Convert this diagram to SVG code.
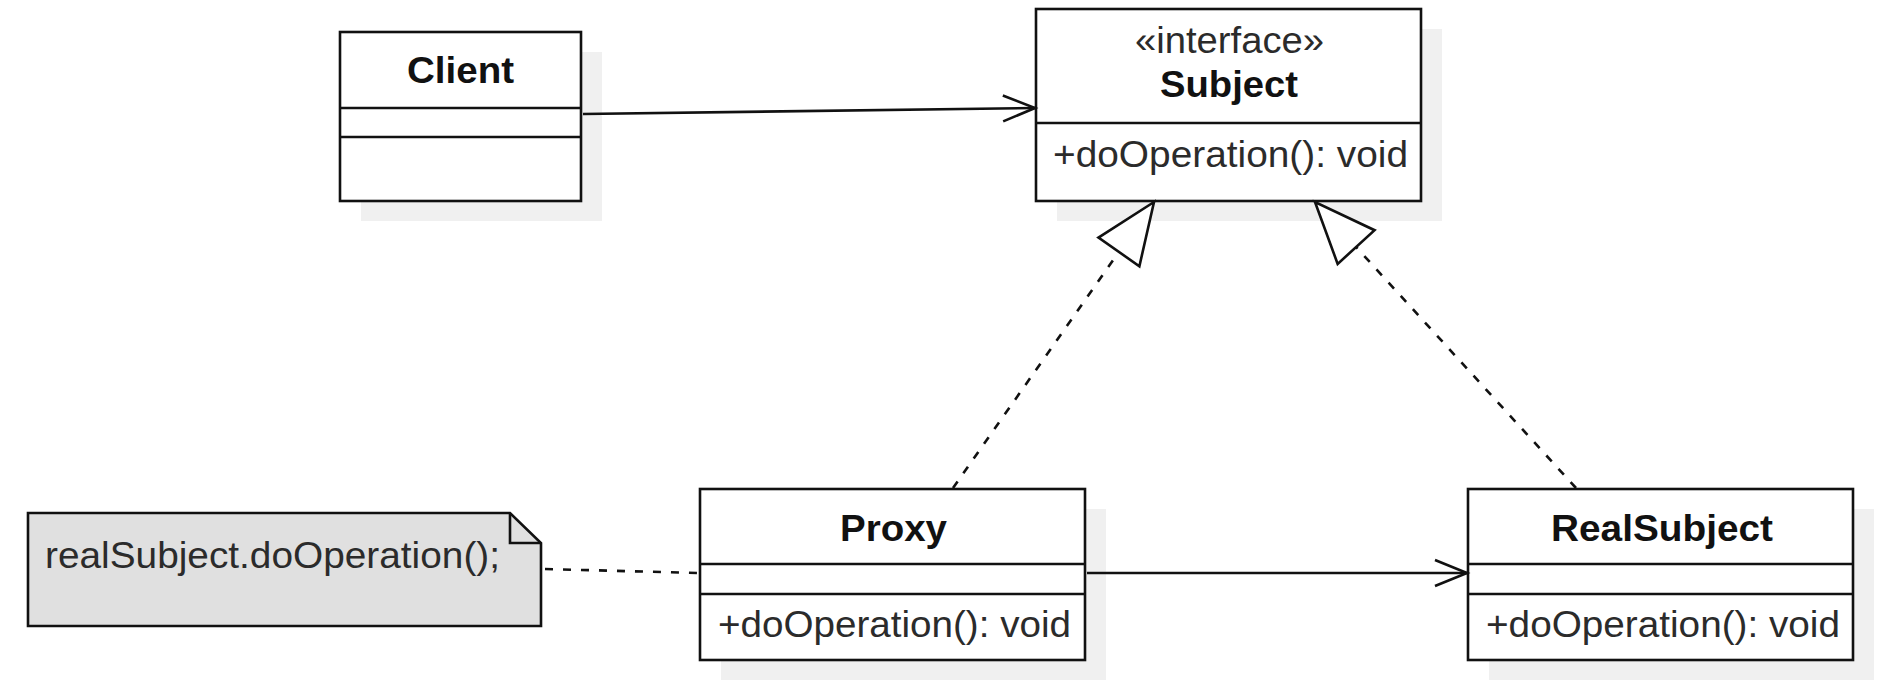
<svg xmlns="http://www.w3.org/2000/svg" width="1878" height="698" viewBox="0 0 1878 698">
<style>
.box{fill:#fff;stroke:#111;stroke-width:2.6}
.div{stroke:#111;stroke-width:2.6}
.shadow{fill:#f0f0f0}
.t{font-family:"Liberation Sans",Arial,sans-serif;font-size:36px;fill:#2b2b2b}
.b{font-weight:bold;fill:#111}
.c{text-anchor:middle}
.line{fill:none;stroke:#111;stroke-width:2.6}
.dash{stroke-dasharray:8 10}
</style>
<defs>
<marker id="open" markerUnits="userSpaceOnUse" viewBox="-40 -20 44 40" refX="0" refY="0" markerWidth="44" markerHeight="40" orient="auto" overflow="visible">
<path d="M-32,-13 L0,0 L-32,13" fill="none" stroke="#111" stroke-width="2.6"/>
</marker>
<marker id="tri" markerUnits="userSpaceOnUse" viewBox="-70 -30 74 60" refX="0" refY="0" markerWidth="74" markerHeight="60" orient="auto" overflow="visible">
<path d="M0,0 L-61,-25 L-61,25 Z" fill="#fff" stroke="#111" stroke-width="2.6" stroke-linejoin="miter"/>
</marker>
</defs>
<rect width="1878" height="698" fill="#fff"/>

<g id="client">
<rect class="shadow" x="361" y="52" width="241" height="169"/>
<rect class="box" x="340" y="32" width="241" height="169"/>
<line class="div" x1="340" y1="108" x2="581" y2="108"/>
<line class="div" x1="340" y1="137" x2="581" y2="137"/>
<text class="t b c" x="460.5" y="83" textLength="107" lengthAdjust="spacingAndGlyphs">Client</text>
</g>

<g id="subject">
<rect class="shadow" x="1057" y="29" width="385" height="192"/>
<rect class="box" x="1036" y="9" width="385" height="192"/>
<line class="div" x1="1036" y1="123" x2="1421" y2="123"/>
<text class="t c" x="1229.5" y="53" textLength="189" lengthAdjust="spacingAndGlyphs">«interface»</text>
<text class="t b c" x="1229" y="97" textLength="138" lengthAdjust="spacingAndGlyphs">Subject</text>
<text class="t" x="1053" y="167" textLength="355" lengthAdjust="spacingAndGlyphs">+doOperation(): void</text>
</g>

<g id="proxy">
<rect class="shadow" x="721" y="509" width="385" height="171"/>
<rect class="box" x="700" y="489" width="385" height="171"/>
<line class="div" x1="700" y1="564" x2="1085" y2="564"/>
<line class="div" x1="700" y1="594" x2="1085" y2="594"/>
<text class="t b c" x="893.5" y="541" textLength="107" lengthAdjust="spacingAndGlyphs">Proxy</text>
<text class="t" x="718" y="637" textLength="353" lengthAdjust="spacingAndGlyphs">+doOperation(): void</text>
</g>

<g id="realsubject">
<rect class="shadow" x="1489" y="509" width="385" height="171"/>
<rect class="box" x="1468" y="489" width="385" height="171"/>
<line class="div" x1="1468" y1="564" x2="1853" y2="564"/>
<line class="div" x1="1468" y1="594" x2="1853" y2="594"/>
<text class="t b c" x="1662" y="541" textLength="222" lengthAdjust="spacingAndGlyphs">RealSubject</text>
<text class="t" x="1486" y="637" textLength="354" lengthAdjust="spacingAndGlyphs">+doOperation(): void</text>
</g>

<g id="note">
<path d="M28,513 L510,513 L541,543 L541,626 L28,626 Z" fill="#e0e0e0" stroke="#111" stroke-width="2.6" stroke-linejoin="miter"/>
<path d="M510,513 L510,543 L541,543" fill="none" stroke="#111" stroke-width="2.6"/>
<text class="t" x="45" y="568" textLength="455" lengthAdjust="spacingAndGlyphs">realSubject.doOperation();</text>
</g>

<g id="connectors">
<path class="line" d="M583,114 L1035,108" marker-end="url(#open)"/>
<path class="line" d="M1087,573 L1467,573" marker-end="url(#open)"/>
<path class="line dash" d="M545,569 L699,573"/>
<path class="line dash" d="M953,488 L1154,202" marker-end="url(#tri)"/>
<path class="line dash" d="M1576,488 L1315,202" marker-end="url(#tri)"/>
</g>
</svg>
